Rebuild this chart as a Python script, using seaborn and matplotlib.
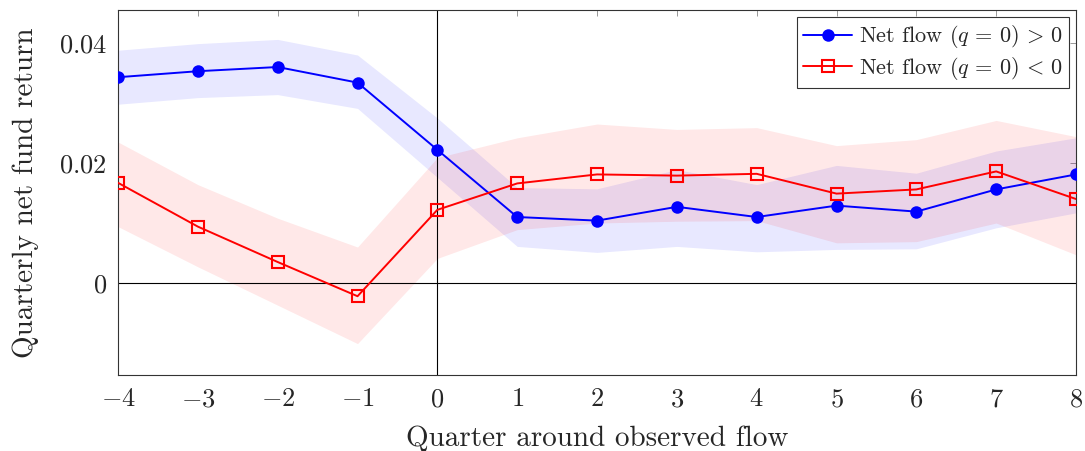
import numpy as np
import pandas as pd
import seaborn as sns
import matplotlib.pyplot as plt

# quarters around the observed flow
quarters = [-4, -3, -2, -1, 0, 1, 2, 3, 4, 5, 6, 7, 8]

# net flow > 0
pos_mean = [0.0343, 0.0353, 0.0360, 0.0334, 0.0222, 0.0110, 0.0104, 0.0127, 0.0110, 0.0129, 0.0119, 0.0156, 0.0181]
pos_upper = [0.0388, 0.0399, 0.0406, 0.0380, 0.0275, 0.0159, 0.0157, 0.0189, 0.0164, 0.0196, 0.0183, 0.0220, 0.0242]
pos_lower = [0.0298, 0.0309, 0.0314, 0.0291, 0.0176, 0.0061, 0.0051, 0.0061, 0.0052, 0.0056, 0.0057, 0.0092, 0.0117]

# net flow < 0
neg_mean = [0.0167, 0.0094, 0.0035, -0.0022, 0.0122, 0.0166, 0.0181, 0.0179, 0.0182, 0.0149, 0.0156, 0.0186, 0.0140]
neg_upper = [0.0235, 0.0164, 0.0108, 0.0060, 0.0209, 0.0242, 0.0265, 0.0256, 0.0259, 0.0229, 0.0239, 0.0271, 0.0244]
neg_lower = [0.0094, 0.0027, -0.0037, -0.0101, 0.0041, 0.0089, 0.0100, 0.0103, 0.0104, 0.0067, 0.0069, 0.0100, 0.0047]

y_ticks = [0, 0.02, 0.04]

sns.set_style("white")
plt.rcParams["font.family"] = ["cmr10", "DejaVu Serif"]
plt.rcParams["mathtext.fontset"] = "cm"
plt.rcParams["axes.unicode_minus"] = False

df = pd.DataFrame({
    "quarter": quarters * 2,
    "ret": pos_mean + neg_mean,
    "group": ["pos"] * len(quarters) + ["neg"] * len(quarters),
})

fig = plt.figure(figsize=(10.85, 4.51), dpi=100)
ax = fig.add_axes([0.1088, 0.1685, 0.8829, 0.8093])

ax.fill_between(quarters, pos_lower, pos_upper, color="blue", alpha=0.09, lw=0)
ax.fill_between(quarters, neg_lower, neg_upper, color="red", alpha=0.09, lw=0)

ax.axhline(0, color="black", lw=0.8, zorder=1)
ax.axvline(0, color="black", lw=0.8, zorder=1)

sns.lineplot(data=df[df.group == "pos"], x="quarter", y="ret", ax=ax,
             color="blue", lw=1.4, marker="o", markersize=9, markeredgewidth=0,
             label=r"Net flow $(q\,=\,0)\,>\,0$", zorder=3)
sns.lineplot(data=df[df.group == "neg"], x="quarter", y="ret", ax=ax,
             color="red", lw=1.4, marker="s", markersize=8, markerfacecolor="none",
             markeredgecolor="red", markeredgewidth=1.5,
             label=r"Net flow $(q\,=\,0)\,<\,0$", zorder=3)

ax.set_xlim(-4, 8)
ax.set_ylim(-0.01533, 0.0455)
ax.set_xticks(quarters)
ax.set_xticklabels([r"$%d$" % q for q in quarters])
ax.set_yticks(y_ticks)
ax.set_yticklabels([r"$0$", r"$0.02$", r"$0.04$"])
ax.tick_params(direction="in", top=True, right=True, length=4, width=0.6,
               color="#888888", labelsize=19)
ax.tick_params(axis="x", pad=9)
ax.tick_params(axis="y", pad=8)
for s in ax.spines.values():
    s.set_color("#333333")
    s.set_linewidth(0.8)

ax.set_xlabel("Quarter around observed flow", fontsize=21, labelpad=10)
ax.set_ylabel("Quarterly net fund return", fontsize=21, labelpad=14)

leg = ax.legend(loc="upper right", fontsize=16, frameon=True, fancybox=False,
                edgecolor="black", borderaxespad=0.3, handlelength=2.2,
                borderpad=0.3, labelspacing=0.2, handletextpad=0.3)
leg.get_frame().set_linewidth(0.8)

plt.savefig("out.png", dpi=100)
